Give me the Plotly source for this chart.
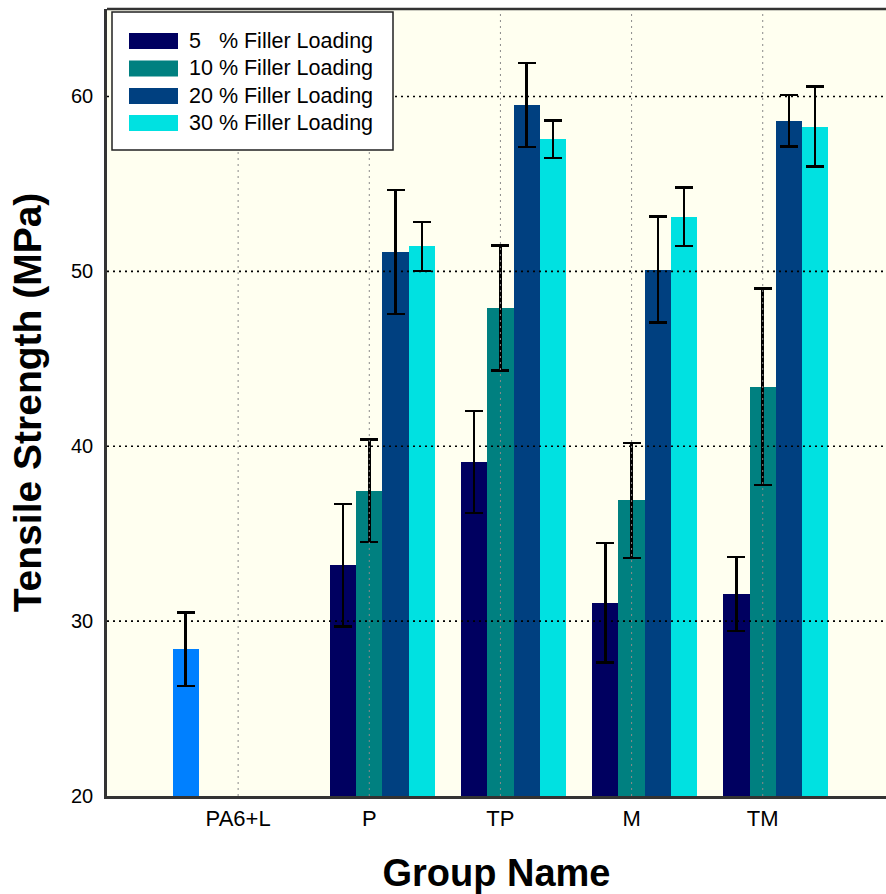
import plotly.graph_objects as go

# ---- data -------------------------------------------------------------
groups = ["PA6+L", "P", "TP", "M", "TM"]
filled_groups = ["P", "TP", "M", "TM"]

base_name = "PA6+L"
base_mean = [28.4]
base_err = [2.1]

series_names = ["5   % Filler Loading", "10 % Filler Loading",
                "20 % Filler Loading", "30 % Filler Loading"]
load_5 = [33.2, 39.1, 31.05, 31.55]
load_5_err = [3.5, 2.92, 3.43, 2.11]
load_10 = [37.45, 47.9, 36.9, 43.4]
load_10_err = [2.93, 3.57, 3.28, 5.62]
load_20 = [51.1, 59.5, 50.1, 58.6]
load_20_err = [3.55, 2.4, 3.03, 1.47]
load_30 = [51.43, 57.55, 53.12, 58.28]
load_30_err = [1.4, 1.08, 1.66, 2.28]

y_ticks = [20, 30, 40, 50, 60]
grid_values = [30, 40, 50, 60]

# ---- styling ----------------------------------------------------------
base_color = "#0080FF"
series_colors = ["#000060", "#008080", "#004080", "#00E1E1"]
bg = "#FFFFF0"
frame = "#333333"
W, H = 886, 894
ML, MR, MT, MB = 107, 0, 9, 98
PW, PH = W - ML - MR, H - MT - MB

err_style = dict(type="data", visible=True, color="black", thickness=2.5, width=9)

fig = go.Figure()
fig.add_trace(go.Bar(x=[base_name], y=base_mean, name=base_name,
                     marker=dict(color=base_color, line=dict(width=0)),
                     error_y=dict(array=base_err, **err_style), showlegend=False))

series_vals = [load_5, load_10, load_20, load_30]
series_errs = [load_5_err, load_10_err, load_20_err, load_30_err]
for name, vals, errs, col in zip(series_names, series_vals, series_errs, series_colors):
    fig.add_trace(go.Bar(x=filled_groups, y=vals, name=name,
                         marker=dict(color=col, line=dict(width=0)),
                         error_y=dict(array=errs, **err_style), showlegend=False))


def px_x(px):
    return (px - ML) / PW


def px_y(py):
    return (H - MB - py) / PH


shapes = []
# dotted grid drawn over the bars
for g in groups:
    shapes.append(dict(type="line", xref="x", yref="paper", x0=g, x1=g, y0=0, y1=1,
                       line=dict(color="#8a8a8a", width=1, dash="2px,4px"), layer="above"))
for v in grid_values:
    shapes.append(dict(type="line", xref="paper", yref="y", x0=0, x1=1, y0=v, y1=v,
                       line=dict(color="black", width=1.6, dash="2px,4px"), layer="above"))
# top edge of the frame
shapes.append(dict(type="line", xref="paper", yref="paper", x0=0, x1=1, y0=1, y1=1,
                   line=dict(color=frame, width=2.5), layer="above"))

# legend box
shapes.append(dict(type="rect", xref="paper", yref="paper",
                   x0=px_x(112), x1=px_x(393), y0=px_y(150), y1=px_y(12),
                   fillcolor="white", line=dict(color="#222222", width=1.5), layer="above"))
annotations = []
row_y = [41, 68.5, 96, 123]
for name, col, ry in zip(series_names, series_colors, row_y):
    shapes.append(dict(type="rect", xref="paper", yref="paper",
                       x0=px_x(129), x1=px_x(178), y0=px_y(ry + 8), y1=px_y(ry - 8),
                       fillcolor=col, line=dict(width=0), layer="above"))
    annotations.append(dict(xref="paper", yref="paper", x=px_x(187), y=px_y(ry),
                            xanchor="left", yanchor="middle", showarrow=False,
                            text=name.replace(" ", "\u00a0"),
                            font=dict(family="Liberation Sans, Arial", size=21.5, color="black")))

fig.update_layout(
    width=W, height=H,
    margin=dict(l=ML, r=MR, t=MT, b=MB, pad=0),
    paper_bgcolor="white", plot_bgcolor=bg,
    barmode="group", bargap=0, bargroupgap=0,
    shapes=shapes, annotations=annotations,
    xaxis=dict(type="category", categoryorder="array", categoryarray=groups,
               range=[-1, 4.94], showgrid=False, zeroline=False,
               showline=True, linecolor=frame, linewidth=2.5, mirror=False,
               ticks="", ticklabelstandoff=1,
               tickfont=dict(family="Liberation Sans, Arial", size=22, color="black"),
               title=dict(text="<b>Group Name</b>", standoff=31,
                          font=dict(family="Liberation Sans, Arial", size=38, color="black"))),
    yaxis=dict(range=[20, 65], tickvals=y_ticks, showgrid=False, zeroline=False,
               showline=True, linecolor=frame, linewidth=2.5, mirror=False,
               ticks="", ticklabelstandoff=7,
               tickfont=dict(family="Liberation Sans, Arial", size=20, color="black"),
               title=dict(text="<b>Tensile Strength (MPa)</b>", standoff=18,
                          font=dict(family="Liberation Sans, Arial", size=39, color="black"))),
)

fig.write_html("out.html")
